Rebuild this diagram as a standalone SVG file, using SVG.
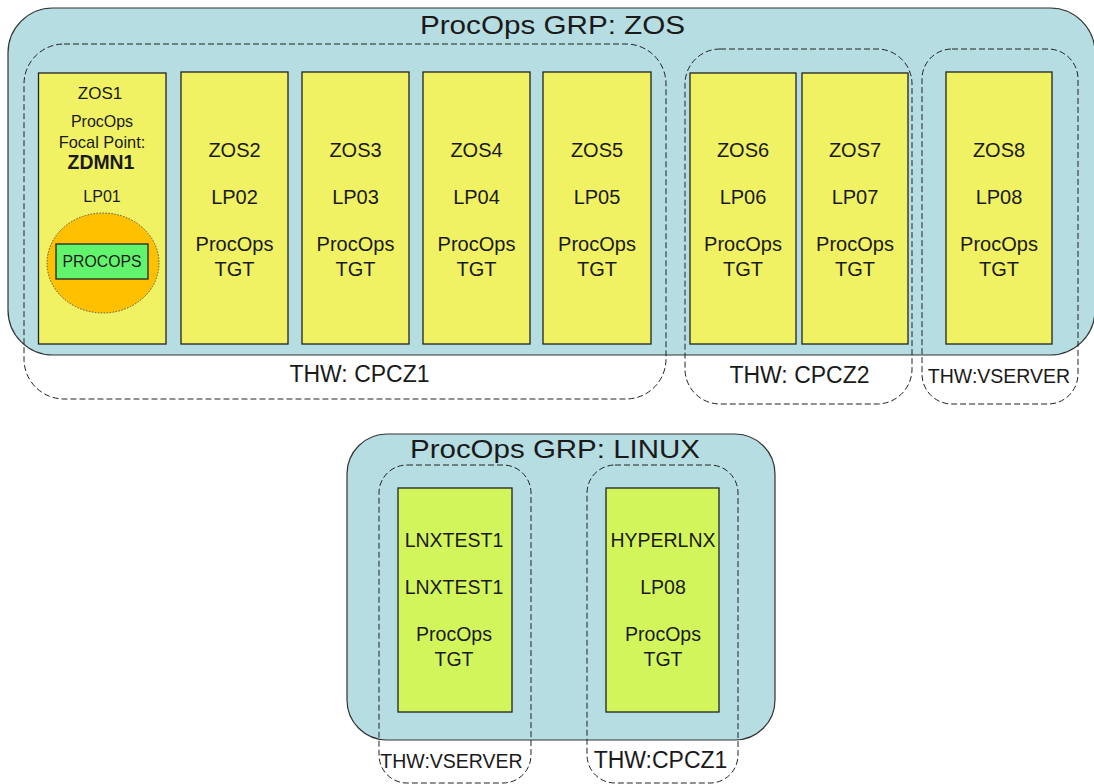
<svg xmlns="http://www.w3.org/2000/svg" width="1094" height="784" viewBox="0 0 1094 784">
<style>
.grp{fill:#b6dde1;stroke:#333;stroke-width:1.2}
.thw{fill:none;stroke:#222;stroke-width:1;stroke-dasharray:6,3}
.lpar{fill:#f0f264;stroke:#222;stroke-width:1.3}
.lnx{fill:#d3f55c;stroke:#222;stroke-width:1.3}
text{font-family:"Liberation Sans",Arial,sans-serif;fill:#1a1a1a;text-anchor:middle}
.t{font-size:20px}
.tl{font-size:19.5px}
.title{font-size:26px}
.lbl{font-size:23px}
.lbls{font-size:19.5px}
</style>
<g id="grp-zos">
<rect class="grp" x="8" y="8" width="1087" height="347" rx="45"/>
<text class="title" x="552.5" y="34" textLength="265" lengthAdjust="spacingAndGlyphs">ProcOps GRP: ZOS</text>
</g>
<g id="thw-cpcz1">
<rect class="thw" x="24" y="44" width="642" height="355" rx="40"/>
<text class="lbl" x="359.5" y="382">THW: CPCZ1</text>
</g>
<g id="thw-cpcz2">
<rect class="thw" x="685" y="49" width="227" height="355" rx="35"/>
<text class="lbl" x="799.5" y="383">THW: CPCZ2</text>
</g>
<g id="thw-vserver-zos">
<rect class="thw" x="922" y="49" width="156" height="355" rx="30"/>
<text class="lbls" x="999" y="383">THW:VSERVER</text>
</g>
<g id="zos1">
<rect class="lpar" x="38.5" y="73" width="127.5" height="271"/>
<text x="100" y="99" style="font-size:17px">ZOS1</text>
<text x="102" y="127" style="font-size:16px">ProcOps</text>
<text x="102" y="148" style="font-size:16.4px">Focal Point:</text>
<text x="101" y="169" style="font-size:19.4px;font-weight:bold">ZDMN1</text>
<text x="102" y="202" style="font-size:16px">LP01</text>
<ellipse cx="103" cy="263" rx="56" ry="50" fill="#ffc000" stroke="#555" stroke-width="1" stroke-dasharray="1.5,1.5"/>
<rect x="56" y="244" width="92" height="35" fill="#62f46c" stroke="#222" stroke-width="1.3"/>
<text x="102" y="267" style="font-size:15.8px">PROCOPS</text>
</g>
<g id="zos2">
<rect class="lpar" x="181" y="72" width="107" height="272"/>
<text class="t" x="234.5" y="157">ZOS2</text>
<text class="t" x="234.5" y="204">LP02</text>
<text class="t" x="234.5" y="251">ProcOps</text>
<text class="t" x="234.5" y="276">TGT</text>
</g>
<g id="zos3">
<rect class="lpar" x="302" y="72" width="107" height="272"/>
<text class="t" x="355.5" y="157">ZOS3</text>
<text class="t" x="355.5" y="204">LP03</text>
<text class="t" x="355.5" y="251">ProcOps</text>
<text class="t" x="355.5" y="276">TGT</text>
</g>
<g id="zos4">
<rect class="lpar" x="423" y="72" width="107" height="272"/>
<text class="t" x="476.5" y="157">ZOS4</text>
<text class="t" x="476.5" y="204">LP04</text>
<text class="t" x="476.5" y="251">ProcOps</text>
<text class="t" x="476.5" y="276">TGT</text>
</g>
<g id="zos5">
<rect class="lpar" x="543" y="72" width="108" height="272"/>
<text class="t" x="597" y="157">ZOS5</text>
<text class="t" x="597" y="204">LP05</text>
<text class="t" x="597" y="251">ProcOps</text>
<text class="t" x="597" y="276">TGT</text>
</g>
<g id="zos6">
<rect class="lpar" x="690" y="73" width="106" height="271"/>
<text class="t" x="743" y="157">ZOS6</text>
<text class="t" x="743" y="204">LP06</text>
<text class="t" x="743" y="251">ProcOps</text>
<text class="t" x="743" y="276">TGT</text>
</g>
<g id="zos7">
<rect class="lpar" x="802" y="73" width="106" height="271"/>
<text class="t" x="855" y="157">ZOS7</text>
<text class="t" x="855" y="204">LP07</text>
<text class="t" x="855" y="251">ProcOps</text>
<text class="t" x="855" y="276">TGT</text>
</g>
<g id="zos8">
<rect class="lpar" x="946" y="72" width="106" height="272"/>
<text class="t" x="999" y="157">ZOS8</text>
<text class="t" x="999" y="204">LP08</text>
<text class="t" x="999" y="251">ProcOps</text>
<text class="t" x="999" y="276">TGT</text>
</g>
<g id="grp-linux">
<rect class="grp" x="347" y="434" width="428" height="306" rx="40"/>
<text class="title" x="555" y="458" textLength="290" lengthAdjust="spacingAndGlyphs">ProcOps GRP: LINUX</text>
</g>
<g id="thw-vserver-linux">
<rect class="thw" x="379" y="465" width="152" height="318" rx="28"/>
<text class="lbls" x="451.5" y="768">THW:VSERVER</text>
</g>
<g id="thw-cpcz1-linux">
<rect class="thw" x="587" y="465" width="151" height="318" rx="28"/>
<text class="lbl" x="660.5" y="768">THW:CPCZ1</text>
</g>
<g id="lnxtest1">
<rect class="lnx" x="398" y="488" width="114" height="224"/>
<text class="tl" x="454" y="547">LNXTEST1</text>
<text class="tl" x="454" y="594">LNXTEST1</text>
<text class="tl" x="454" y="641">ProcOps</text>
<text class="tl" x="454" y="666">TGT</text>
</g>
<g id="hyperlnx">
<rect class="lnx" x="606" y="488" width="113" height="224"/>
<text class="tl" x="663" y="547">HYPERLNX</text>
<text class="tl" x="663" y="594">LP08</text>
<text class="tl" x="663" y="641">ProcOps</text>
<text class="tl" x="663" y="666">TGT</text>
</g>
<g id="connectors"/>
</svg>
